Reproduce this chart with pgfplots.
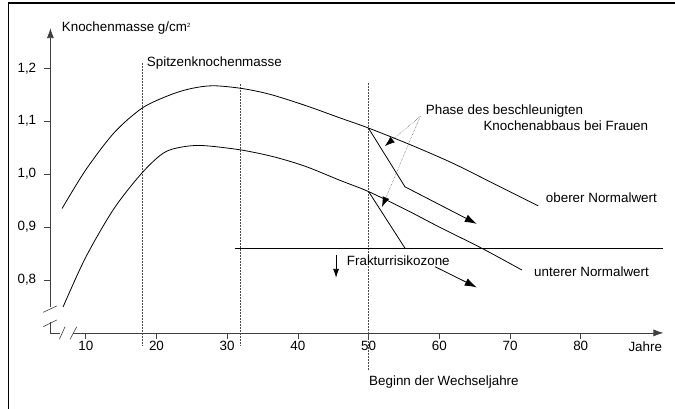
\documentclass[border=0pt]{standalone}
\usepackage{pgfplots}
\pgfplotsset{compat=1.18}
\usetikzlibrary{arrows.meta}
\usepackage{fontspec}
\setmainfont{Liberation Sans}
\newcommand{\lbl}{\fontsize{13.4}{15}\selectfont}
\begin{document}
\begin{tikzpicture}[every node/.style={font=\lbl, inner sep=0pt}]
\useasboundingbox (0,0) rectangle (675pt,408pt);
% frame
\draw[line width=1.6pt] (8.3pt,-2pt) -- (8.3pt,405pt) -- (680pt,405pt);
\begin{axis}[
  at={(50.4pt,75.1pt)}, anchor=south west,
  x=7.071pt, y=529.25pt,
  xmin=5, xmax=91.7, ymin=0.7, ymax=1.276,
  axis x line=bottom, axis y line=left,
  axis line style={draw=none},
  clip=false,
  xtick={10,20,30,40,50,60,70,80},
  ytick={0.8,0.9,1.0,1.1,1.2},
  tick align=outside,
  major tick length=6pt,
  tick style={black!75, line width=0.6pt},
  tick label style={font=\lbl},
  /pgf/number format/.cd, use comma, fixed, fixed zerofill, precision=1, assume math mode=true,
  /pgfplots/.cd,
  xticklabel style={/pgf/number format/precision=0, /pgf/number format/fixed zerofill=false, inner sep=2pt},
  yticklabel style={inner sep=0pt, xshift=-8pt},
]
% axis lines with breaks
\draw[black!75, line width=0.8pt, -{Latex[length=10pt,width=7pt]}] (axis cs:5,0.7496) -- (axis cs:5,1.276);
\draw[black!75, line width=0.8pt] (axis cs:5,0.7215) -- (axis cs:5,0.7) -- (axis cs:6.36,0.7);
\draw[black!75, line width=0.8pt, -{Latex[length=10pt,width=7pt]}] (axis cs:8.25,0.7) -- (axis cs:91.7,0.7);
\draw[black!75, line width=0.6pt] (axis cs:4.0,0.7390) -- (axis cs:5.9,0.7509);
\draw[black!75, line width=0.6pt] (axis cs:4.0,0.7118) -- (axis cs:5.9,0.7244);
\draw[black!75, line width=0.6pt] (axis cs:6.27,0.6879) -- (axis cs:7.07,0.7117);
\draw[black!75, line width=0.6pt] (axis cs:7.78,0.6879) -- (axis cs:8.73,0.7117);
% dotted verticals
\addplot[densely dotted, black!70, line width=0.5pt] coordinates {(17.96,0.677) (17.96,1.212)};
\addplot[densely dotted, black!70, line width=0.5pt] coordinates {(31.8,0.677) (31.8,1.172)};
\addplot[densely dotted, black!70, line width=0.5pt] coordinates {(50.0,0.630) (50.0,1.172)};
% upper normal curve
\addplot[black, line width=0.8pt, smooth] coordinates {
(6.65,0.935) (10,1.008) (14,1.078) (18,1.125) (22,1.150) (25,1.162) (28,1.167)
(32,1.162) (36,1.151) (41,1.130) (46,1.106) (50,1.087) (56,1.055) (62,1.020)
(68,0.980) (74,0.940)};
% lower normal curve
\addplot[black, line width=0.8pt, smooth] coordinates {
(6.79,0.749) (10,0.843) (14,0.935) (18,1.003) (21,1.040) (23.5,1.051) (26.5,1.054)
(31.8,1.046) (36.5,1.033) (41,1.015) (46,0.988) (50,0.967) (55.4,0.932) (60,0.900)
(66,0.860) (71.65,0.819)};
% accelerated loss lines
\addplot[black, line width=0.8pt, -{Latex[length=12pt,width=8pt]}] coordinates {(50.0,1.0865) (55.15,0.976) (65.3,0.906)};
\addplot[black, line width=0.8pt] coordinates {(50.0,0.967) (55.15,0.860)};
\addplot[black, line width=0.8pt, -{Latex[length=12pt,width=8pt]}] coordinates {(59.4,0.825) (65.3,0.786)};
% fracture risk zone threshold
\addplot[black, line width=0.8pt] coordinates {(31.1,0.86) (91.6,0.86)};
\addplot[black, line width=0.8pt, -{Latex[length=9pt,width=6pt]}] coordinates {(45.4,0.847) (45.4,0.804)};
% dotted pointers
\draw[densely dotted, black!70, line width=0.5pt, -{Latex[length=10pt,width=7pt, black, fill=black]}] (axis cs:57.3,1.109) -- (axis cs:52.3,1.053);
\draw[densely dotted, black!70, line width=0.5pt, -{Latex[length=10pt,width=7pt, black, fill=black]}] (axis cs:57.3,1.109) -- (axis cs:51.9,0.938);
\end{axis}
% labels
\node[anchor=base west] at (61.7pt,376.3pt) {Knochenmasse g/cm\raisebox{0.55ex}{\fontsize{6}{6}\selectfont 2}};
\node[anchor=base west] at (146.7pt,341.3pt) {Spitzenknochenmasse};
\node[anchor=base west] at (425.7pt,294pt) {Phase des beschleunigten};
\node[anchor=base west] at (483.3pt,278pt) {Knochenabbaus bei Frauen};
\node[anchor=base west] at (545.7pt,205.3pt) {oberer Normalwert};
\node[anchor=base west] at (534pt,132pt) {unterer Normalwert};
\node[anchor=base west] at (346.7pt,143pt) {Frakturrisikozone};
\node[anchor=base west] at (369pt,23pt) {Beginn der Wechseljahre};
\node[anchor=base west] at (628.3pt,56.3pt) {Jahre};
\end{tikzpicture}
\end{document}
